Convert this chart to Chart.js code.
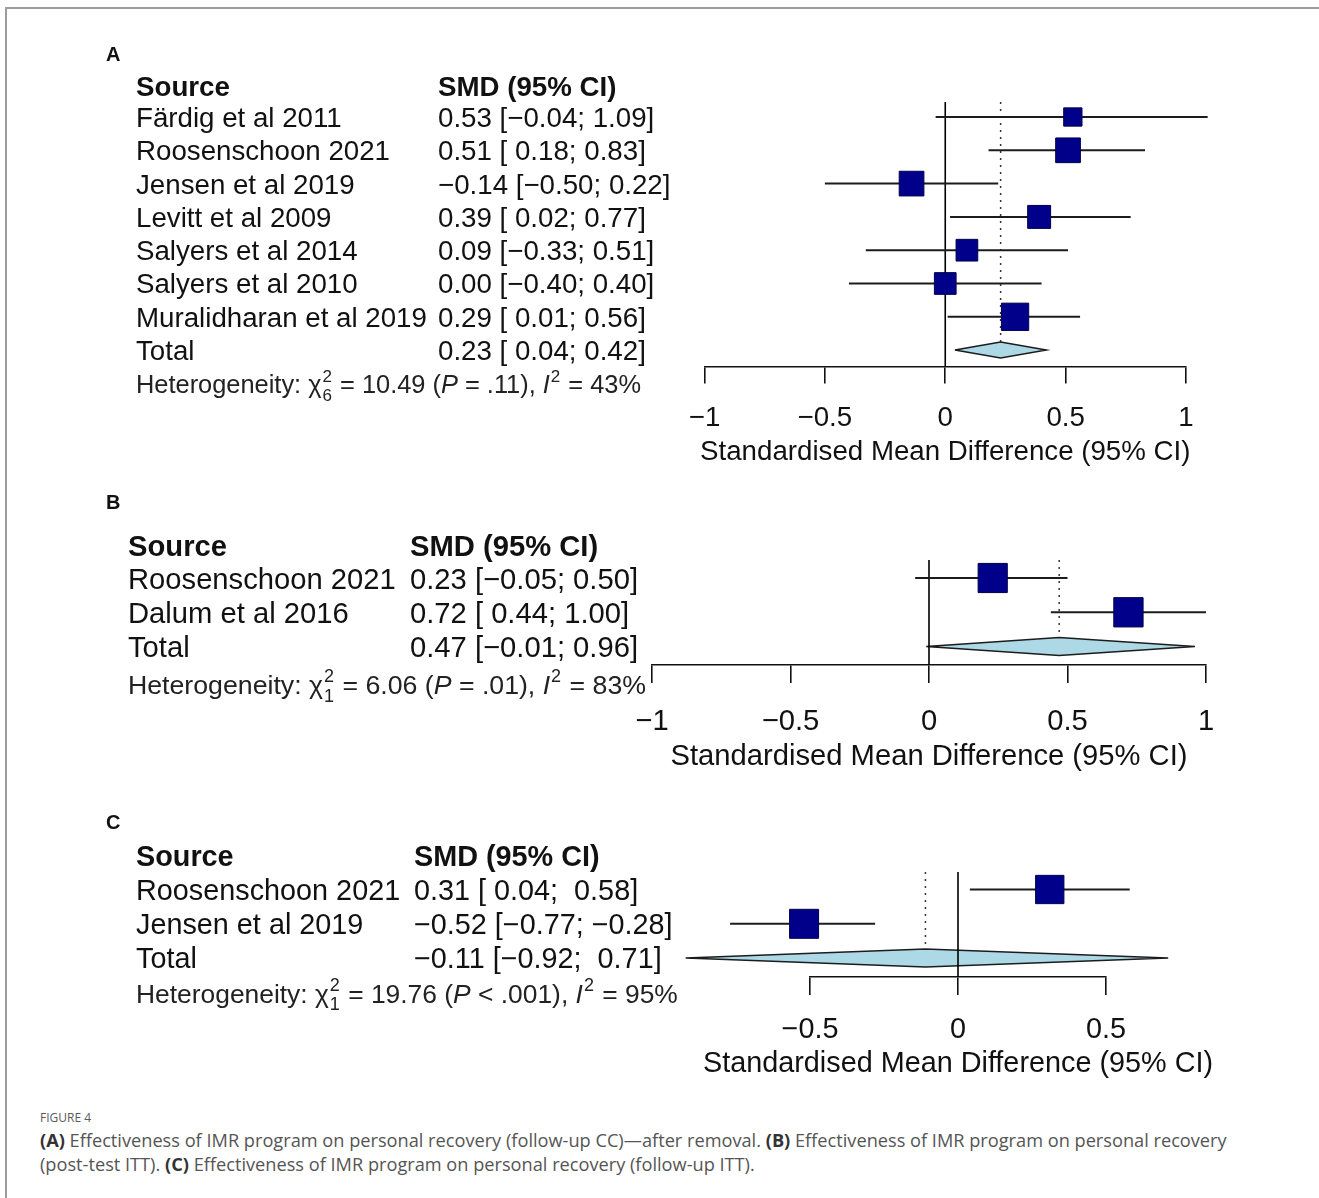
<!DOCTYPE html>
<html>
<head>
<meta charset="utf-8">
<title>Figure 4</title>
<script src="https://cdn.jsdelivr.net/npm/chart.js@4.4.1/dist/chart.umd.min.js"></script>
<style>
  html, body { margin: 0; padding: 0; background: #fff; }
  body { width: 1319px; height: 1198px; position: relative; overflow: hidden; }
  #frame { position: absolute; left: 5px; top: 7px; width: 1400px; height: 1300px;
           border-top: 2px solid #9c9c9c; border-left: 2px solid #9c9c9c; }
  canvas { position: absolute; left: 0; }
  #figlabel { position: absolute; left: 40px; top: 1109px; font: 12px 'Open Sans', sans-serif;
              color: #5a5a5a; }
  #caption { position: absolute; left: 40px; top: 1128px; font: 18.2px/24px 'Open Sans', sans-serif;
             color: #555; white-space: nowrap; }
  #caption b { color: #333; }
</style>
</head>
<body>
<div id="frame"></div>
<canvas id="panelA" width="1319" height="450" style="top:30px"></canvas>
<canvas id="panelB" width="1319" height="300" style="top:490px"></canvas>
<canvas id="panelC" width="1319" height="290" style="top:800px"></canvas>
<div id="figlabel">FIGURE 4</div>
<div id="caption"><b>(A)</b> Effectiveness of IMR program on personal recovery (follow-up CC)—after removal. <b>(B)</b> Effectiveness of IMR program on personal recovery<br>(post-test ITT). <b>(C)</b> Effectiveness of IMR program on personal recovery (follow-up ITT).</div>

<script>
// ---- Panel A: follow-up CC, after removal ----
const studiesA = ['Färdig et al 2011', 'Roosenschoon 2021', 'Jensen et al 2019', 'Levitt et al 2009',
                  'Salyers et al 2014', 'Salyers et al 2010', 'Muralidharan et al 2019'];
const smdA    = [0.53, 0.51, -0.14, 0.39, 0.09, 0.00, 0.29];
const lowerA  = [-0.04, 0.18, -0.50, 0.02, -0.33, -0.40, 0.01];
const upperA  = [1.09, 0.83, 0.22, 0.77, 0.51, 0.40, 0.56];
const weightA = [8.9, 16.2, 16.2, 14.0, 12.5, 12.5, 19.8];
const totalA  = [0.23, 0.04, 0.42];          // estimate, lower, upper
const hetA    = ['10.49', '6', '= .11', '43']; // chi-square, df, P, I-square
const ticksA  = [-1, -0.5, 0, 0.5, 1];

// ---- Panel B: post-test ITT ----
const studiesB = ['Roosenschoon 2021', 'Dalum et al 2016'];
const smdB    = [0.23, 0.72];
const lowerB  = [-0.05, 0.44];
const upperB  = [0.50, 1.00];
const weightB = [49.8, 50.2];
const totalB  = [0.47, -0.01, 0.96];
const hetB    = ['6.06', '1', '= .01', '83'];
const ticksB  = [-1, -0.5, 0, 0.5, 1];

// ---- Panel C: follow-up ITT ----
const studiesC = ['Roosenschoon 2021', 'Jensen et al 2019'];
const smdC    = [0.31, -0.52];
const lowerC  = [0.04, -0.77];
const upperC  = [0.58, -0.28];
const weightC = [48.8, 51.2];
const totalC  = [-0.11, -0.92, 0.71];
const hetC    = ['19.76', '1', '< .001', '95'];
const ticksC  = [-0.5, 0, 0.5];

const AXIS_TITLE = 'Standardised Mean Difference (95% CI)';
const FAMILY = "'Liberation Sans', Arial, Helvetica, sans-serif";
const INK = '#111';

function fmt(v) {
  return (v < 0 ? '\u2212' : '') + Math.abs(v).toFixed(2);
}

// "0.51 [ 0.18; 0.83]" style labels, padding positive bounds when the column holds negatives
function ciLabels(est, lo, hi) {
  const padLo = lo.some(v => v < 0), padHi = hi.some(v => v < 0);
  return est.map((e, i) =>
    fmt(e) + ' [' + (padLo && lo[i] >= 0 ? ' ' : '') + fmt(lo[i]) + '; ' +
    (padHi && hi[i] >= 0 ? ' ' : '') + fmt(hi[i]) + ']');
}

// Runs of plain / italic / super+subscript text on one baseline
function drawRich(ctx, x, y, runs, size, color) {
  ctx.fillStyle = color;
  ctx.textBaseline = 'alphabetic';
  ctx.textAlign = 'left';
  const small = Math.round(size * 0.68);
  for (const r of runs) {
    if (r.sup !== undefined || r.sub !== undefined) {
      ctx.font = small + 'px ' + FAMILY;
      let w = 0;
      if (r.sup !== undefined) { ctx.fillText(r.sup, x + 1, y - size * 0.42); w = Math.max(w, ctx.measureText(r.sup).width); }
      if (r.sub !== undefined) { ctx.fillText(r.sub, x + 1, y + size * 0.30); w = Math.max(w, ctx.measureText(r.sub).width); }
      x += w + 2;
    } else {
      ctx.font = (r.it ? 'italic ' : '') + size + 'px ' + FAMILY;
      ctx.fillText(r.t, x, y);
      x += ctx.measureText(r.t).width;
    }
  }
}

function forestPanel(canvasId, d, L) {
  const n = d.studies.length;
  const totalRow = n + 1;
  const lh = L.fs * 1.2;
  const yMin = 1 + (L.areaTop - L.row1) / L.pitch;
  const yMax = 1 + (L.axisY - L.row1) / L.pitch;
  const axisH = L.titleY - L.axisY + lh / 2;
  const dh = L.diamondHalf / L.pitch;
  const maxW = Math.max(...d.weight);
  const labels = ciLabels(d.smd.concat([d.total[0]]), d.lower.concat([d.total[1]]), d.upper.concat([d.total[2]]));

  const datasets = [];
  // study boxes, area proportional to weight
  datasets.push({
    type: 'scatter',
    data: d.smd.map((v, i) => ({ x: v, y: i + 1 })),
    pointStyle: 'rect',
    pointRadius: d.weight.map(w => L.boxMax * Math.sqrt(w / maxW) / Math.SQRT2),
    backgroundColor: '#00008b',
    borderColor: '#00004a',
    borderWidth: 1,
    order: 0, clip: false
  });
  // confidence interval whiskers
  d.smd.forEach((v, i) => {
    datasets.push({
      type: 'line',
      data: [{ x: d.lower[i], y: i + 1 }, { x: d.upper[i], y: i + 1 }],
      borderColor: '#1c1c1c', borderWidth: 2, pointRadius: 0,
      order: 1, clip: false
    });
  });
  // line of no effect
  datasets.push({
    type: 'line',
    data: [{ x: 0, y: yMin }, { x: 0, y: yMax }],
    borderColor: '#000', borderWidth: 1.6, pointRadius: 0, order: 2, clip: false
  });
  // pooled estimate reference
  datasets.push({
    type: 'line',
    data: [{ x: d.total[0], y: yMin }, { x: d.total[0], y: totalRow - dh }],
    borderColor: '#333', borderWidth: 1.5, borderDash: [2, 5], pointRadius: 0, order: 2, clip: false
  });
  // pooled diamond outline (its fill is painted below every dataset)
  const diamondIndex = datasets.length;
  datasets.push({
    type: 'line',
    data: [{ x: d.total[1], y: totalRow }, { x: d.total[0], y: totalRow - dh },
           { x: d.total[2], y: totalRow }, { x: d.total[0], y: totalRow + dh },
           { x: d.total[1], y: totalRow }],
    fill: false,
    borderColor: '#1c1c1c', borderWidth: 1.5, pointRadius: 0, order: 3, clip: false
  });

  const tablePlugin = {
    id: 'forestTable',
    beforeDatasetsDraw(chart) {
      // diamond body, not clipped to the plotting area
      const pts = chart.getDatasetMeta(diamondIndex).data;
      const ctx = chart.ctx;
      ctx.save();
      ctx.beginPath();
      pts.forEach((p, i) => (i ? ctx.lineTo(p.x, p.y) : ctx.moveTo(p.x, p.y)));
      ctx.closePath();
      ctx.fillStyle = '#add8e6';
      ctx.fill();
      ctx.restore();
    },
    afterDraw(chart) {
      const ctx = chart.ctx;
      const ys = chart.scales.y;
      const area = chart.chartArea;
      const off = L.top;
      ctx.save();
      ctx.fillStyle = INK;
      ctx.textAlign = 'left';
      ctx.textBaseline = 'alphabetic';
      const base = y => y + L.fs * 0.36;
      // panel letter
      ctx.font = 'bold 20px ' + FAMILY;
      ctx.fillText(L.letter, L.letterX, L.letterY - off + 7);
      // header
      ctx.font = 'bold ' + L.fs + 'px ' + FAMILY;
      ctx.fillText('Source', L.colName, base(L.headY - off));
      ctx.fillText('SMD (95% CI)', L.colCI, base(L.headY - off));
      // rows
      ctx.font = L.fs + 'px ' + FAMILY;
      d.studies.concat(['Total']).forEach((s, i) => {
        const y = base(ys.getPixelForValue(i + 1));
        ctx.fillText(s, L.colName, y);
        ctx.fillText(labels[i], L.colCI, y);
      });
      // axis title, centred under the axis and allowed to run past its ends
      ctx.textAlign = 'center';
      ctx.fillText(AXIS_TITLE, (area.left + area.right) / 2, base(L.titleY - off));
      ctx.textAlign = 'left';
      // heterogeneity line
      const [q, df, p, i2] = d.het;
      drawRich(ctx, L.colName, L.hetY - off + L.hetFs * 0.36, [
        { t: 'Heterogeneity: ' }, { t: '\u03c7' }, { sup: '2', sub: df },
        { t: ' = ' + q + ' (' }, { t: 'P', it: true }, { t: ' ' + p + '), ' },
        { t: 'I', it: true }, { sup: '2' }, { t: ' = ' + i2 + '%' }
      ], L.hetFs, '#222');
      ctx.restore();
    }
  };

  return new Chart(document.getElementById(canvasId), {
    type: 'scatter',
    data: { datasets },
    plugins: [tablePlugin],
    options: {
      responsive: false,
      animation: false,
      devicePixelRatio: 1,
      layout: {
        padding: {
          left: L.left,
          right: 1319 - L.right,
          top: L.areaTop - L.top,
          bottom: L.top + L.height - L.axisY - axisH
        }
      },
      plugins: { legend: { display: false }, tooltip: { enabled: false } },
      scales: {
        x: {
          type: 'linear', position: 'bottom',
          min: d.ticks[0], max: d.ticks[d.ticks.length - 1],
          afterBuildTicks: s => { s.ticks = d.ticks.map(v => ({ value: v })); },
          afterFit: s => { s.height = axisH; },
          border: { display: true, color: INK, width: 1.6 },
          grid: { drawOnChartArea: false, drawTicks: true, tickLength: L.tickLen, color: INK, lineWidth: 1.6 },
          ticks: {
            autoSkip: false, maxRotation: 0, color: INK,
            font: { family: FAMILY, size: L.fs },
            padding: L.labelY - L.axisY - L.tickLen - lh / 2 + 2.5,
            callback: v => (v < 0 ? '\u2212' : '') + Math.abs(v)
          },
          title: { display: false }
        },
        y: { type: 'linear', display: false, reverse: true, min: yMin, max: yMax }
      }
    }
  });
}

forestPanel('panelA',
  { studies: studiesA, smd: smdA, lower: lowerA, upper: upperA, weight: weightA, total: totalA, het: hetA, ticks: ticksA },
  { top: 30, height: 450, left: 704.5, right: 1186, areaTop: 102, axisY: 366.5, row1: 117, pitch: 33.3,
    tickLen: 17, labelY: 416, titleY: 450, fs: 27.7, hetFs: 25.4, boxMax: 27.3, diamondHalf: 8,
    letter: 'A', letterX: 106, letterY: 54, colName: 136, colCI: 438, headY: 86, hetY: 384 });

forestPanel('panelB',
  { studies: studiesB, smd: smdB, lower: lowerB, upper: upperB, weight: weightB, total: totalB, het: hetB, ticks: ticksB },
  { top: 490, height: 300, left: 652, right: 1206, areaTop: 560, axisY: 664.5, row1: 578, pitch: 34.3,
    tickLen: 18.5, labelY: 719, titleY: 754, fs: 29.2, hetFs: 26.7, boxMax: 29.3, diamondHalf: 9,
    letter: 'B', letterX: 106, letterY: 502, colName: 128, colCI: 410, headY: 545, hetY: 684 });

forestPanel('panelC',
  { studies: studiesC, smd: smdC, lower: lowerC, upper: upperC, weight: weightC, total: totalC, het: hetC, ticks: ticksC },
  { top: 800, height: 290, left: 810, right: 1106, areaTop: 872, axisY: 977, row1: 889.5, pitch: 34.3,
    tickLen: 18, labelY: 1028, titleY: 1062, fs: 28.8, hetFs: 26.4, boxMax: 29, diamondHalf: 9,
    letter: 'C', letterX: 106, letterY: 822, colName: 136, colCI: 414, headY: 856, hetY: 993 });
</script>
</body>
</html>
